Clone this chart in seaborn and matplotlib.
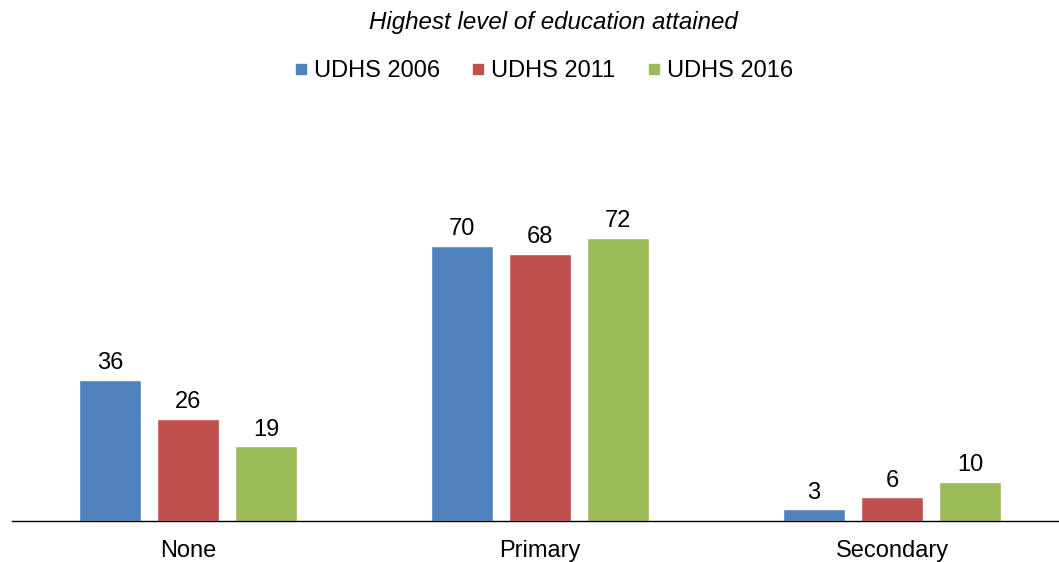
import matplotlib
matplotlib.use("Agg")
import matplotlib.pyplot as plt
from matplotlib.lines import Line2D
import seaborn as sns
import pandas as pd

categories = ["None", "Primary", "Secondary"]
surveys = ["UDHS 2006", "UDHS 2011", "UDHS 2016"]
udhs_2006 = [36, 70, 3]
udhs_2011 = [26, 68, 6]
udhs_2016 = [19, 72, 10]
colors = ["#4F81BD", "#C0504D", "#9BBB59"]

rows = []
for survey, vals in zip(surveys, [udhs_2006, udhs_2011, udhs_2016]):
    for cat, v in zip(categories, vals):
        rows.append({"Level": cat, "Survey": survey, "Percent": v})
df = pd.DataFrame(rows)

sns.set_style("white", rc={"text.color": "black", "xtick.color": "black",
                           "axes.labelcolor": "black"})
plt.rcParams["font.family"] = ["Liberation Sans", "DejaVu Sans"]

fig = plt.figure(figsize=(10.59, 5.62), dpi=100)
ax = fig.add_axes([12 / 1059, 41 / 562, 1047 / 1059, 393 / 562])

sns.barplot(data=df, x="Level", y="Percent", hue="Survey", palette=colors,
            width=0.665, gap=0.205, saturation=1, ax=ax, legend=False)

for cont in ax.containers:
    ax.bar_label(cont, fontsize=17, padding=4, color="black")

ax.set_ylim(0, 100)
ax.set_xlim(-0.5, 2.5 - 9 / 352)
ax.set_xlabel("")
ax.set_ylabel("")
ax.set_yticks([])
ax.tick_params(axis="x", length=0, pad=14, labelsize=17, labelcolor="black")
for s in ["top", "left", "right"]:
    ax.spines[s].set_visible(False)
ax.spines["bottom"].set_color("black")
ax.spines["bottom"].set_linewidth(1)

fig.text(553 / 1059, 1 - 23 / 562, "Highest level of education attained",
         ha="center", va="center", fontsize=17.4, style="italic", color="black")
handles = [Line2D([], [], marker="s", linestyle="none", markersize=7.8,
                  color=c, label=s) for c, s in zip(colors, surveys)]
fig.legend(handles=handles, loc="center", bbox_to_anchor=(544 / 1059, 1 - 71 / 562),
           ncol=3, frameon=False, fontsize=17, handlelength=0.5,
           handletextpad=0.3, columnspacing=1.38, labelcolor="black")

fig.savefig("out.png", dpi=100)
plt.close(fig)
